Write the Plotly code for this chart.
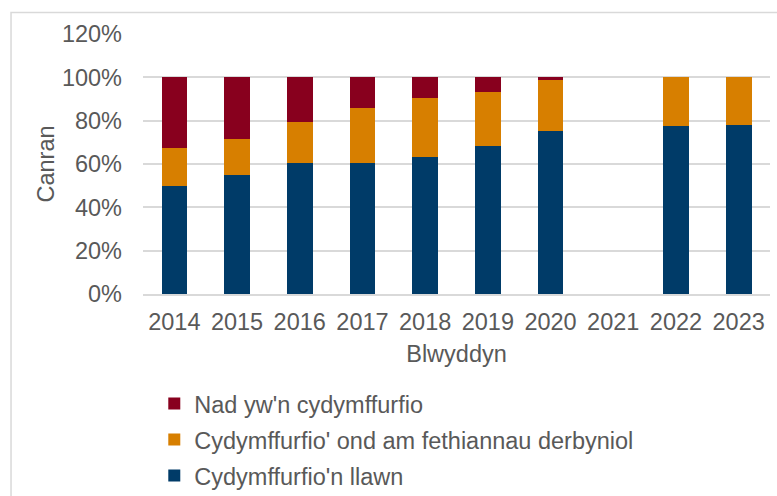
import plotly.graph_objects as go

years = ["2014", "2015", "2016", "2017", "2018", "2019", "2020", "2021", "2022", "2023"]
full = [0.497, 0.551, 0.606, 0.606, 0.634, 0.685, 0.751, None, 0.774, 0.778]
partial = [0.177, 0.163, 0.189, 0.252, 0.269, 0.247, 0.238, None, 0.226, 0.222]
non = [0.326, 0.286, 0.205, 0.142, 0.097, 0.068, 0.011, None, 0.0, 0.0]

names = ["Cydymffurfio'n llawn", "Cydymffurfio' ond am fethiannau derbyniol", "Nad yw'n cydymffurfio"]
colors = ["#003B68", "#D77F00", "#88001E"]
ranks = [3, 2, 1]

FONT = "Liberation Sans, Arial, sans-serif"
GREY = "#595959"
FS = 23.5

fig = go.Figure()
for i, (vals, nm, col) in enumerate(zip([full, partial, non], names, colors)):
    fig.add_trace(go.Bar(
        x=years, y=vals, name=nm, marker_color=col,
        marker_line_width=0, legendgroup=f"g{i}", legendrank=ranks[i],
        hovertemplate="%{x}: %{y:.1%}<extra>" + nm + "</extra>",
    ))

fig.update_layout(
    width=777, height=496,
    margin=dict(l=143, r=7, t=34, b=202, autoexpand=False),
    barmode="stack", bargap=0.59,
    plot_bgcolor="white", paper_bgcolor="white",
    font=dict(family=FONT, size=FS, color=GREY),
    showlegend=True,
    legend=dict(
        orientation="v", traceorder="grouped", tracegroupgap=2.5,
        x=0.018, xanchor="left", y=-0.337, yanchor="top",
        font=dict(family=FONT, size=FS, color=GREY),
        bgcolor="rgba(0,0,0,0)",
    ),
    xaxis=dict(
        type="category", categoryorder="array", categoryarray=years,
        showgrid=False, showline=True, linecolor="#d9d9d9", linewidth=1.5,
        ticks="", ticklabelstandoff=6, automargin=False,
        tickfont=dict(size=FS, color=GREY),
        title=dict(text="Blwyddyn", font=dict(size=FS, color=GREY), standoff=12),
    ),
    yaxis=dict(
        range=[0, 1.2], dtick=0.2, tickformat=".0%",
        showgrid=True, gridcolor="#d9d9d9", gridwidth=1.5,
        zeroline=False, showline=False, ticks="",
        ticklabelstandoff=20, automargin=False,
        tickfont=dict(size=FS, color=GREY),
        title=dict(text="Canran", font=dict(size=FS, color=GREY), standoff=0),
    ),
    shapes=[dict(
        type="rect", xref="paper", yref="paper",
        x0=-0.2105, x1=1.05, y0=-0.85, y1=1.083,
        line=dict(color="#d9d9d9", width=1.5), fillcolor="rgba(0,0,0,0)",
        layer="below",
    )],
)

fig.write_html(
    "out.html",
    config={"displayModeBar": False},
    post_script="document.body.style.margin='0';document.body.style.overflow='hidden';",
)
